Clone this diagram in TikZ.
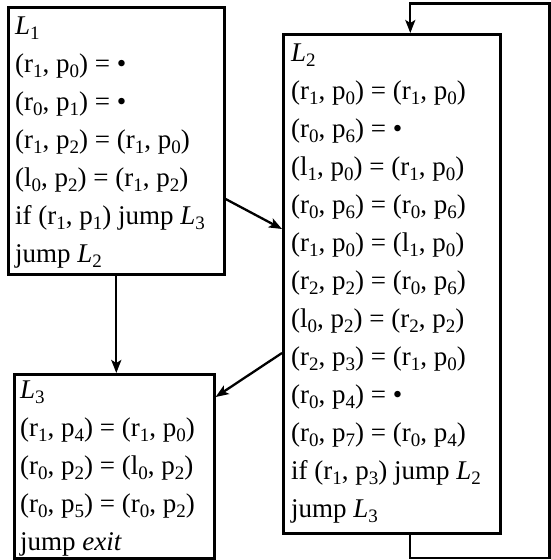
\documentclass[tikz,border=0pt]{standalone}
\usepackage{fontspec}
\setmainfont{Liberation Serif}
\usetikzlibrary{arrows.meta}
\newcommand\sbx[1]{\raisebox{-0.2em}{\fontsize{19}{19}\selectfont #1}}
\newcommand\Lb[1]{\textit{L}\sbx{#1}}
\newcommand\pr[3]{(#1\sbx{#2}, p\sbx{#3})}
\newcommand\codefont{\fontsize{27}{38}\selectfont\raggedright}
\begin{document}
\begin{tikzpicture}[x=1pt,y=-1pt,
  box/.style={draw, line width=2.6pt, inner sep=0pt, anchor=north west},
  code/.style={anchor=base west, inner sep=0pt},
  arr/.style={line width=2.3pt, -{Stealth[length=13pt,width=10pt,inset=3pt]}}]
\useasboundingbox (0,0) rectangle (551,560);
% boxes
\node[box, minimum width=216pt, minimum height=267pt] (L1) at (7,6) {};
\node[box, minimum width=217pt, minimum height=499pt] (L2) at (282,33) {};
\node[box, minimum width=200pt, minimum height=184pt] (L3) at (13,373) {};
% texts
\node[code] (t1) at (15,34) {\parbox[t]{205pt}{\codefont
\Lb{1}\\
\pr{r}{1}{0} = •\\
\pr{r}{0}{1} = •\\
\pr{r}{1}{2} = \pr{r}{1}{0}\\
\pr{l}{0}{2} = \pr{r}{1}{2}\\
if \pr{r}{1}{1} jump \Lb{3}\\
jump \Lb{2}}};
\node[code] (t2) at (291,61) {\parbox[t]{205pt}{\codefont
\Lb{2}\\
\pr{r}{1}{0} = \pr{r}{1}{0}\\
\pr{r}{0}{6} = •\\
\pr{l}{1}{0} = \pr{r}{1}{0}\\
\pr{r}{0}{6} = \pr{r}{0}{6}\\
\pr{r}{1}{0} = \pr{l}{1}{0}\\
\pr{r}{2}{2} = \pr{r}{0}{6}\\
\pr{l}{0}{2} = \pr{r}{2}{2}\\
\pr{r}{2}{3} = \pr{r}{1}{0}\\
\pr{r}{0}{4} = •\\
\pr{r}{0}{7} = \pr{r}{0}{4}\\
if \pr{r}{1}{3} jump \Lb{2}\\
jump \Lb{3}}};
\node[code] (t3) at (20,398) {\parbox[t]{190pt}{\codefont
\Lb{3}\\
\pr{r}{1}{4} = \pr{r}{1}{0}\\
\pr{r}{0}{2} = \pr{l}{0}{2}\\
\pr{r}{0}{5} = \pr{r}{0}{2}\\
jump \textit{exit}}};
% connectors
\draw[arr] (L1.south) -- (L1.south |- L3.north);
\draw[arr] ([yshift=-193pt]L1.north east) -- ([yshift=-196pt]L2.north west);
\draw[arr] ([yshift=-320pt]L2.north west) -- ([yshift=-24pt]L3.north east);
\coordinate (cbr) at (549.5,558);
\coordinate (ctr) at (549.5,3.5);
\draw[arr] ([xshift=18.5pt]L2.south) |- (cbr) -- (ctr) -| ([xshift=18.5pt]L2.north);
\end{tikzpicture}
\end{document}
